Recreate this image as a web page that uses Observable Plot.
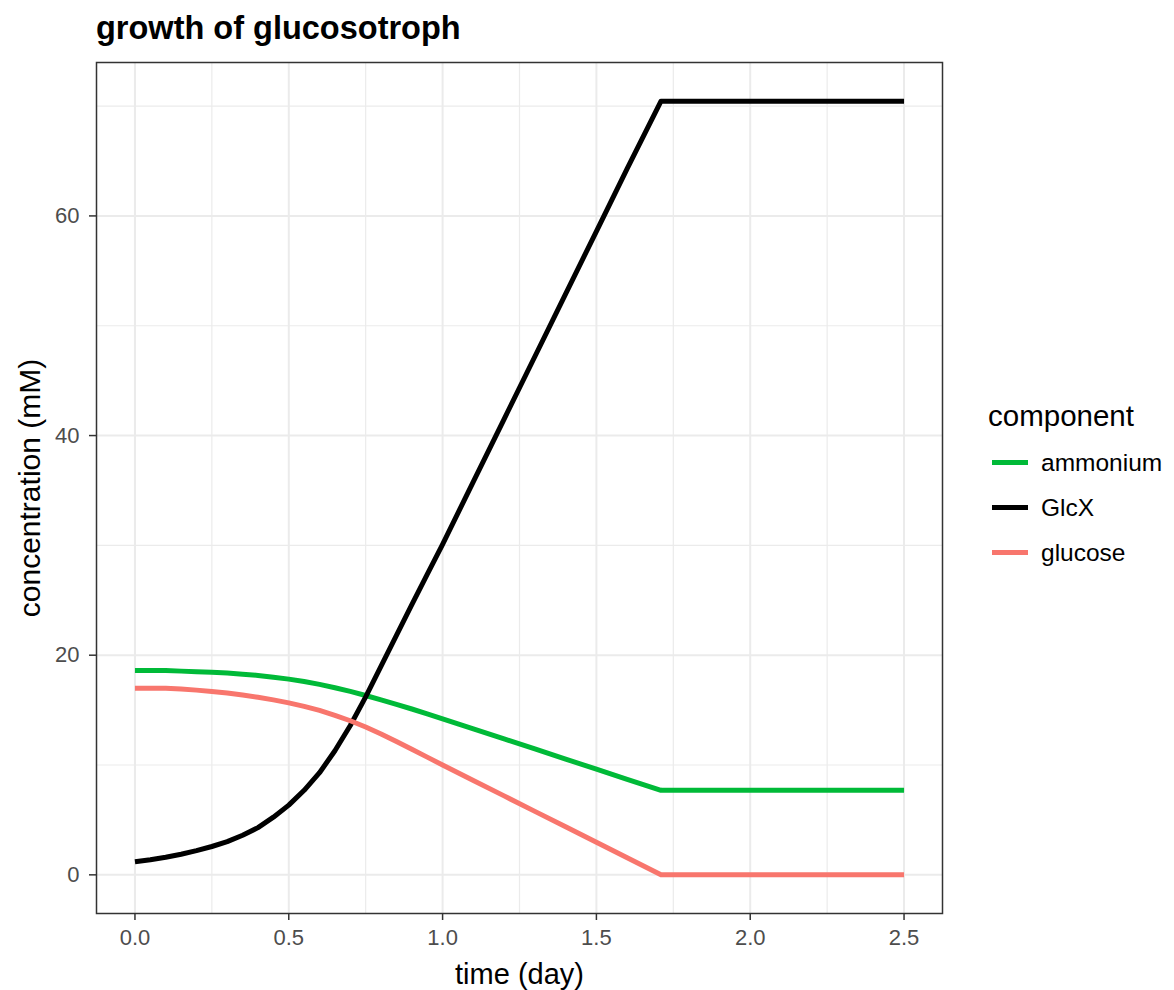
<!DOCTYPE html>
<html>
<head>
<meta charset="utf-8">
<script src="https://cdn.jsdelivr.net/npm/d3@7"></script>
<script src="https://cdn.jsdelivr.net/npm/@observablehq/plot@0.6"></script>
<style>
  html, body { margin: 0; padding: 0; background: #fff; }
  body { width: 1174px; height: 990px; position: relative; overflow: hidden; font-family: Arial, "Liberation Sans", sans-serif; }
  #title { position: absolute; left: 96px; top: 10px; font-size: 32.5px; font-weight: bold; color: #000; white-space: nowrap; }
  #chart { position: absolute; left: 0; top: 50px; }
  #legend { position: absolute; left: 988px; top: 398px; color: #000; }
  #legend .lt { font-size: 29.5px; line-height: 36px; margin-bottom: 6px; }
  #legend .row { display: flex; align-items: center; height: 45px; }
  #legend .sw { width: 36px; height: 5px; margin-left: 4px; margin-right: 13px; }
  #legend .lab { font-size: 24.5px; }
</style>
</head>
<body>
<div id="title">growth of glucosotroph</div>
<div id="chart"></div>
<div id="legend"></div>
<script>
// ---- data ----
const times = [0, 0.05, 0.1, 0.15, 0.2, 0.25, 0.3, 0.35, 0.4, 0.45, 0.5, 0.55, 0.6, 0.65, 0.7, 0.75, 0.8, 0.85, 0.9, 0.95, 1.0, 1.1, 1.2, 1.3, 1.4, 1.5, 1.6, 1.71, 2.0, 2.5];
const ammonium = [18.6, 18.6, 18.6, 18.55, 18.5, 18.45, 18.37, 18.27, 18.16, 18.0, 17.82, 17.6, 17.34, 17.04, 16.7, 16.33, 15.93, 15.52, 15.1, 14.66, 14.2, 13.3, 12.38, 11.46, 10.54, 9.62, 8.7, 7.7, 7.7, 7.7];
const glcx = [1.2, 1.38, 1.6, 1.88, 2.2, 2.58, 3.02, 3.6, 4.3, 5.25, 6.35, 7.7, 9.3, 11.3, 13.6, 16.2, 19.0, 21.8, 24.6, 27.35, 30.1, 35.8, 41.5, 47.2, 52.9, 58.6, 64.3, 70.45, 70.45, 70.45];
const glucose = [17.0, 17.0, 17.0, 16.92, 16.82, 16.7, 16.56, 16.38, 16.17, 15.93, 15.66, 15.34, 14.97, 14.53, 14.03, 13.46, 12.83, 12.14, 11.43, 10.72, 10.01, 8.6, 7.19, 5.78, 4.37, 2.96, 1.55, 0, 0, 0];

const components = ["ammonium", "GlcX", "glucose"];
const colors = ["#00BA38", "#000000", "#F8766D"];
const seriesValues = [ammonium, glcx, glucose];

const xTicks = [0, 0.5, 1.0, 1.5, 2.0, 2.5];
const xMinor = [0.25, 0.75, 1.25, 1.75, 2.25];
const yTicks = [0, 20, 40, 60];
const yMinor = [10, 30, 50, 70];

const data = components.flatMap((c, i) => times.map((t, j) => ({component: c, time: t, value: seriesValues[i][j]})));

const chart = Plot.plot({
  width: 960,
  height: 940,
  marginLeft: 96,
  marginRight: 18,
  marginTop: 12,
  marginBottom: 77,
  style: {fontFamily: 'Arial, "Liberation Sans", sans-serif', background: "#fff"},
  x: {domain: [-0.125, 2.625]},
  y: {domain: [-3.52, 73.97]},
  color: {domain: components, range: colors},
  marks: [
    Plot.gridX(xMinor, {stroke: "#EBEBEB", strokeOpacity: 1, strokeWidth: 1.2}),
    Plot.gridY(yMinor, {stroke: "#EBEBEB", strokeOpacity: 1, strokeWidth: 1.2}),
    Plot.gridX(xTicks, {stroke: "#EBEBEB", strokeOpacity: 1, strokeWidth: 2}),
    Plot.gridY(yTicks, {stroke: "#EBEBEB", strokeOpacity: 1, strokeWidth: 2}),
    Plot.line(data, {x: "time", y: "value", z: "component", stroke: "component", strokeWidth: 5, strokeLinecap: "butt", strokeLinejoin: "round"}),
    Plot.frame({stroke: "#333333", strokeWidth: 1.5}),
    Plot.axisX(xTicks, {tickFormat: d3.format(".1f"), tickSize: 7, tickPadding: 9, fontSize: 22, color: "#4D4D4D", stroke: "#333333", strokeWidth: 1.5, label: null}),
    Plot.axisY(yTicks, {tickSize: 7, tickPadding: 10, fontSize: 22, color: "#4D4D4D", stroke: "#333333", strokeWidth: 1.5, label: null}),
    Plot.text(["time (day)"], {frameAnchor: "bottom", dy: 61, fontSize: 29, fill: "#000", textAnchor: "middle", lineAnchor: "middle"}),
    Plot.text(["concentration (mM)"], {frameAnchor: "left", dx: -66, rotate: -90, fontSize: 30, fill: "#000", textAnchor: "middle", lineAnchor: "middle"})
  ]
});
document.getElementById("chart").appendChild(chart);

// legend
const legend = document.getElementById("legend");
legend.innerHTML = '<div class="lt">component</div>' + components.map((c, i) =>
  `<div class="row"><div class="sw" style="background:${colors[i]}"></div><span class="lab">${c}</span></div>`).join("");
</script>
</body>
</html>
